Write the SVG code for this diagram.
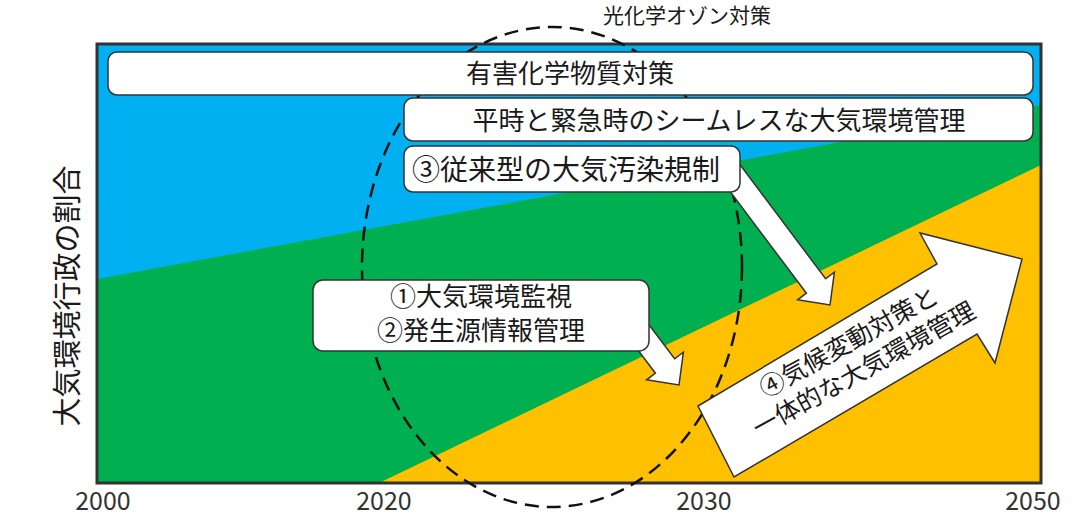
<svg xmlns="http://www.w3.org/2000/svg" width="1082" height="515" viewBox="0 0 1082 515">
<style>
text{font-family:"Noto Sans CJK JP","Noto Sans",sans-serif;fill:#1a1a1a}
.box{fill:#fff;stroke:#333;stroke-width:1.5}
.arr{fill:#fff;stroke:#333;stroke-width:1.5;stroke-linejoin:miter}
.yr{font-size:25px;fill:#333;text-anchor:middle}
.lbl{font-size:26px;text-anchor:middle}
</style>
<rect width="1082" height="515" fill="#fff"/>
<g id="plot">
<rect x="97" y="44" width="944" height="439" fill="#00B0F0"/>
<polygon points="97,279 1041,105 1041,483 97,483" fill="#00B050"/>
<polygon points="379,483 1041,165 1041,483" fill="#FFC000"/>
<rect x="97" y="44" width="944" height="439" fill="none" stroke="#333" stroke-width="3"/>
</g>
<g id="ozone">
<ellipse cx="552" cy="267" rx="190" ry="240" fill="none" stroke="#111" stroke-width="2.5" stroke-dasharray="14,8"/>
<text x="687" y="23" font-size="21" text-anchor="middle">光化学オゾン対策</text>
</g>
<g id="connectors">
<polygon class="arr" points="619.6,285.8 674.6,358.8 683.4,352.2 679,385 646.6,379.8 655.4,373.2 600.4,300.2"/>
<polygon class="arr" points="735.6,158.8 825.6,278.8 834.4,272.2 830,305 797.6,299.8 806.4,293.2 716.4,173.2"/>
</g>
<g id="box-chem">
<rect class="box" x="108" y="52" width="925" height="43" rx="9"/>
<text class="lbl" x="570" y="83">有害化学物質対策</text>
</g>
<g id="box-seamless">
<rect class="box" x="404" y="98" width="629" height="43" rx="9"/>
<text class="lbl" x="719" y="130" font-size="26.5">平時と緊急時のシームレスな大気環境管理</text>
</g>
<g id="box-conv">
<rect class="box" x="404" y="146" width="336" height="46" rx="9"/>
<text class="lbl" x="566" y="180" style="font-size:28px">③従来型の大気汚染規制</text>
</g>
<g id="box-monitor">
<rect class="box" x="313" y="280" width="336" height="71" rx="10"/>
<text class="lbl" x="481" y="306">①大気環境監視</text>
<text class="lbl" x="481" y="340">②発生源情報管理</text>
</g>
<g id="arrow-climate">
<polygon class="arr" points="698,406 937,264 920,233 1022,259 995,363 977,334 734,477"/>
<g transform="translate(856,355) rotate(-29)">
<text x="0" y="-6" font-size="25" text-anchor="middle">④気候変動対策と</text>
<text x="0" y="25" font-size="25" text-anchor="middle">一体的な大気環境管理</text>
</g>
</g>
<g id="axes">
<text transform="translate(78,296) rotate(-90)" font-size="29" text-anchor="middle">大気環境行政の割合</text>
<text class="yr" x="103" y="510">2000</text>
<text class="yr" x="384" y="510">2020</text>
<text class="yr" x="704" y="510">2030</text>
<text class="yr" x="1033" y="510">2050</text>
</g>
</svg>
